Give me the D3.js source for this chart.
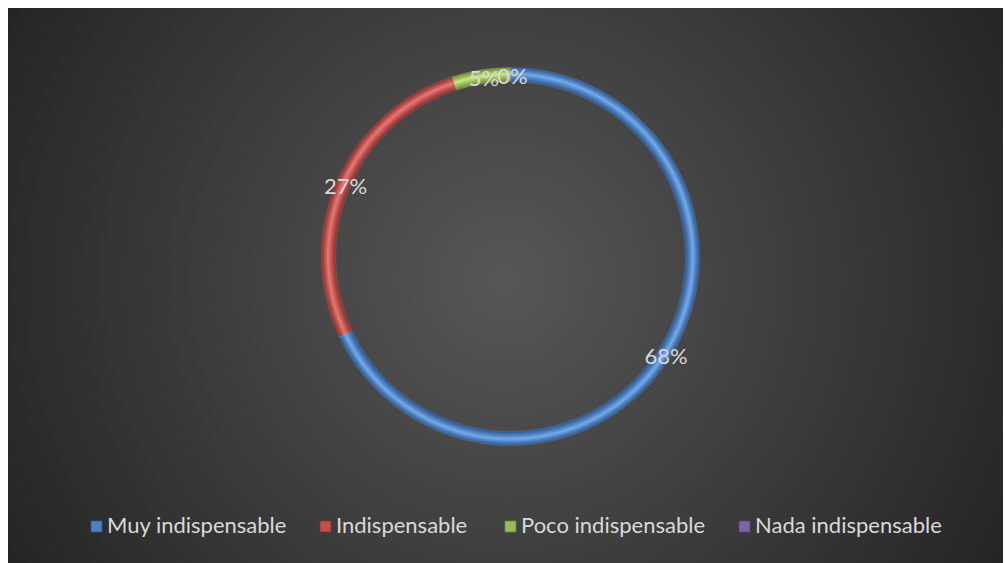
<!DOCTYPE html>
<html><head><meta charset="utf-8">
<script src="https://cdn.jsdelivr.net/npm/d3@7"></script>
<style>html,body{margin:0;padding:0;background:#fff;}svg{display:block;}</style>
</head><body>
<svg id="c" width="1005" height="563"></svg>
<script>
const categories = ["Muy indispensable", "Indispensable", "Poco indispensable", "Nada indispensable"];
const values = [68, 27, 5, 0];
const labels = ["68%", "27%", "5%", "0%"];
const colors = ["#4f81bd", "#c0504d", "#9bbb59", "#8064a2"];
const darkColors = ["#2a5794", "#8f2c29", "#6a8a2b", "#573c7a"];
const lightColors = ["#74aaee", "#e07a76", "#c6e886", "#a78ccc"];

const svg = d3.select("#c");
const defs = svg.append("defs");
const cx = 510.5, cy = 256.5, rOuter = 189, rInner = 175;

const bg = defs.append("radialGradient").attr("id", "bg")
  .attr("gradientUnits", "userSpaceOnUse").attr("cx", 505).attr("cy", 280).attr("r", 580);
bg.append("stop").attr("offset", 0).attr("stop-color", "#575757");
bg.append("stop").attr("offset", 1).attr("stop-color", "#242424");
svg.append("rect").attr("x", 8).attr("y", 8).attr("width", 995).attr("height", 555).attr("fill", "url(#bg)");

colors.forEach((c, i) => {
  const g = defs.append("radialGradient").attr("id", "ring" + i)
    .attr("gradientUnits", "userSpaceOnUse").attr("cx", 0).attr("cy", 0).attr("r", rOuter);
  g.append("stop").attr("offset", rInner / rOuter).attr("stop-color", darkColors[i]);
  g.append("stop").attr("offset", (rInner + 4) / rOuter).attr("stop-color", c);
  g.append("stop").attr("offset", (rInner + 7.5) / rOuter).attr("stop-color", lightColors[i]);
  g.append("stop").attr("offset", (rInner + 10.5) / rOuter).attr("stop-color", c);
  g.append("stop").attr("offset", 1).attr("stop-color", darkColors[i]);
});

const pie = d3.pie().sort(null).value(d => d)(values);
const arc = d3.arc().innerRadius(rInner).outerRadius(rOuter);
const labelArc = d3.arc().innerRadius((rInner + rOuter) / 2).outerRadius((rInner + rOuter) / 2);
const g = svg.append("g").attr("transform", `translate(${cx},${cy})`);
g.selectAll("path.slice").data(pie).enter().append("path")
  .attr("class", "slice")
  .attr("d", arc)
  .attr("fill", (d, i) => `url(#ring${i})`)
  .attr("stroke", (d, i) => d.value > 0 ? "rgba(255,255,255,0.2)" : "none")
  .attr("stroke-width", 0.6);

g.selectAll("text.lbl").data(pie).enter().append("text")
  .attr("class", "lbl")
  .attr("x", d => labelArc.centroid(d)[0] + 2)
  .attr("y", d => labelArc.centroid(d)[1] + 2)
  .attr("dy", "0.35em")
  .attr("text-anchor", "middle")
  .attr("font-family", "Lato, 'Noto Sans', sans-serif")
  .attr("font-size", 22)
  .attr("fill", "#d9d9d9")
  .text((d, i) => labels[i]);

const legendX = [91, 320, 505, 739];
const legend = svg.append("g");
categories.forEach((c, i) => {
  legend.append("rect").attr("x", legendX[i]).attr("y", 521).attr("width", 11).attr("height", 11)
    .attr("fill", colors[i]).attr("stroke", darkColors[i]).attr("stroke-width", 0.8);
  legend.append("text").attr("x", legendX[i] + 16).attr("y", 533)
    .attr("font-family", "Lato, 'Noto Sans', sans-serif")
    .attr("font-size", 22).attr("fill", "#d9d9d9").text(c);
});
</script>
</body></html>
